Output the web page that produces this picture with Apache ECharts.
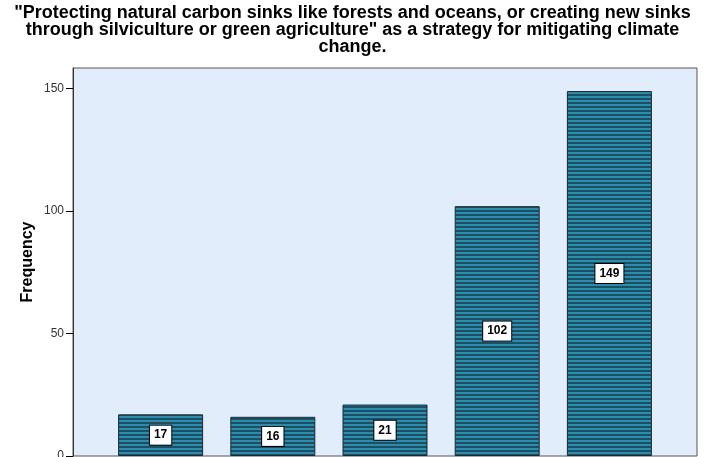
<!DOCTYPE html>
<html>
<head>
<meta charset="utf-8">
<script src="https://cdn.jsdelivr.net/npm/echarts@6/dist/echarts.min.js"></script>
<style>
html, body { margin: 0; padding: 0; background: #fff; }
#main { width: 705px; height: 457px; }
</style>
</head>
<body>
<div id="main"></div>
<script>
var categories = ['Strongly disagree', 'Disagree', 'Neutral', 'Agree', 'Strongly agree'];
var frequencies = [17, 16, 21, 102, 149];
var yTicks = [0, 50, 100, 150];
var titleText = '"Protecting natural carbon sinks like forests and oceans, or creating new sinks\nthrough silviculture or green agriculture" as a strategy for mitigating climate\nchange.';

// striped fill like the SPSS bars
var stripe = document.createElement('canvas');
stripe.width = 4;
stripe.height = 4;
var ctx = stripe.getContext('2d');
ctx.fillStyle = '#2d8cab';
ctx.fillRect(0, 0, 4, 4);
ctx.fillStyle = '#1b5064';
ctx.fillRect(0, 2, 4, 2);

var yMax = 158.4;
var chart = echarts.init(document.getElementById('main'));
var option = {
    animation: false,
    title: {
        text: titleText,
        left: 'center',
        top: 5,
        padding: 0,
        textStyle: {
            fontFamily: 'Liberation Sans',
            fontSize: 18,
            fontWeight: 'bold',
            color: '#000',
            lineHeight: 17
        }
    },
    grid: [
        { left: 73, right: 8, top: 68, bottom: 1, show: true, backgroundColor: '#e2edfb', borderColor: '#555', borderWidth: 1, outerBoundsMode: 'none' },
        { left: 104.5, width: 561, top: 68, bottom: 1, outerBoundsMode: 'none' }
    ],
    xAxis: [
        { type: 'category', gridIndex: 0, data: categories, show: false },
        {
            type: 'category', gridIndex: 1, data: categories,
            axisLine: { show: false }, axisTick: { show: false }, axisLabel: { show: false }
        }
    ],
    yAxis: [
        {
            type: 'value', gridIndex: 0, min: 0, max: yMax,
            name: 'Frequency', nameLocation: 'middle', nameGap: 37, nameMoveOverlap: false,
            nameTextStyle: { fontFamily: 'Liberation Sans', fontSize: 16, fontWeight: 'bold', color: '#000' },
            axisLine: { show: true, lineStyle: { color: '#333' } },
            axisTick: { show: true, length: 7, customValues: yTicks, lineStyle: { color: '#000' } },
            axisLabel: { customValues: yTicks, fontFamily: 'Liberation Sans', fontSize: 12, color: '#333', margin: 9 },
            splitLine: { show: false }
        },
        { type: 'value', gridIndex: 1, min: 0, max: yMax, show: false }
    ],
    series: [{
        type: 'bar',
        xAxisIndex: 1,
        yAxisIndex: 1,
        data: frequencies,
        barWidth: 85,
        itemStyle: {
            color: { image: stripe, repeat: 'repeat' },
            borderColor: '#1a2a30',
            borderWidth: 1
        },
        label: {
            show: true,
            position: 'inside',
            fontFamily: 'Liberation Sans',
            fontSize: 12,
            fontWeight: 'bold',
            color: '#000',
            backgroundColor: '#fff',
            borderColor: '#000',
            borderWidth: 1,
            padding: [4, 4, 3, 4]
        }
    }]
};
chart.setOption(option);
window.onresize = chart.resize;
</script>
</body>
</html>
